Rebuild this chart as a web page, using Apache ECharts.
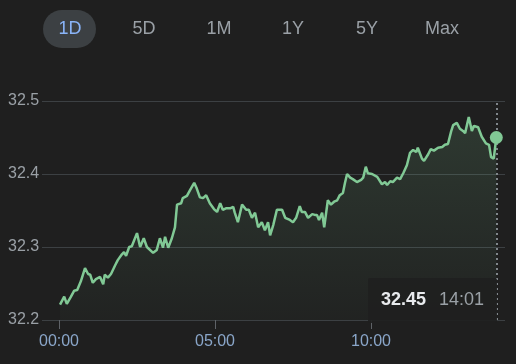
<!DOCTYPE html>
<html>
<head>
<meta charset="utf-8">
<script src="https://cdn.jsdelivr.net/npm/echarts@6/dist/echarts.min.js"></script>
<style>
html,body{margin:0;padding:0;background:#1f1f1f;}
#chart{width:516px;height:364px;}
</style>
</head>
<body>
<div id="chart"></div>
<script>
// Range buttons
const rangeButtons = ['1D', '5D', '1M', '1Y', '5Y', 'Max'];
const selectedRange = '1D';

// Time of each sample, minutes since 00:00
const minutes = [2,10,15,23,29,35,42,50,56,60,65,71,79,85,88,94,100,108,113,115,121,125,129,135,140,150,156,163,169,181,188,194,200,204,210,217,223,227,235,238,246,252,260,265,271,277,283,290,298,304,310,315,321,329,335,338,344,352,360,365,371,377,383,390,396,402,406,412,419,429,435,444,450,456,463,467,473,479,487,492,496,500,506,510,517,523,529,535,540,546,550,554,560,565,573,581,585,590,594,602,612,621,627,631,637,642,650,656,662,669,675,681,687,690,698,702,710,715,721,729,737,742,748,754,758,765,771,777,781,788,794,798,806,813,821,827,831,836,841];

// Price at each sample
const prices = [32.221,32.232,32.222,32.232,32.240,32.241,32.253,32.271,32.263,32.262,32.251,32.256,32.259,32.249,32.262,32.258,32.263,32.275,32.282,32.281,32.290,32.293,32.288,32.300,32.301,32.319,32.300,32.312,32.300,32.292,32.296,32.312,32.299,32.314,32.299,32.312,32.327,32.358,32.360,32.367,32.370,32.378,32.388,32.380,32.368,32.367,32.371,32.360,32.352,32.348,32.360,32.351,32.353,32.353,32.355,32.347,32.334,32.358,32.351,32.351,32.340,32.347,32.327,32.334,32.323,32.334,32.316,32.330,32.351,32.351,32.340,32.337,32.334,32.340,32.356,32.348,32.348,32.340,32.345,32.344,32.344,32.337,32.347,32.327,32.364,32.358,32.362,32.364,32.371,32.374,32.388,32.400,32.395,32.393,32.389,32.392,32.395,32.410,32.401,32.400,32.396,32.386,32.389,32.385,32.390,32.389,32.395,32.393,32.401,32.412,32.429,32.433,32.430,32.436,32.421,32.418,32.427,32.434,32.432,32.436,32.437,32.440,32.441,32.458,32.467,32.470,32.462,32.459,32.456,32.478,32.459,32.466,32.464,32.451,32.442,32.440,32.423,32.421,32.45];

// Axis tick labels
const yTicks = [32.2, 32.3, 32.4, 32.5];
const xTickMinutes = [0, 300, 600];

function fmtTime(m) {
  const h = Math.floor(m / 60), mm = Math.round(m % 60);
  return String(h).padStart(2, '0') + ':' + String(mm).padStart(2, '0');
}

const lastIdx = prices.length - 1;
const lastMin = minutes[lastIdx];
const lastPrice = prices[lastIdx];
const seriesData = minutes.map((m, i) => [m, prices[i]]);

const FONT = '"Liberation Sans", Arial, sans-serif';
const btnX = [70, 144, 219, 293, 367, 442];

const graphics = [];
graphics.push({ type: 'rect', left: 43, top: 10, shape: { width: 53, height: 38, r: 19 }, style: { fill: '#3c4043' }, z: 100 });
rangeButtons.forEach((b, i) => {
  graphics.push({
    type: 'text', x: btnX[i], y: 29, z: 101,
    style: { text: b, fill: b === selectedRange ? '#8ab4f8' : '#9aa0a6', font: '18px ' + FONT, textAlign: 'center', textVerticalAlign: 'middle' }
  });
});
// readout box
graphics.push({ type: 'rect', left: 368, top: 278, shape: { width: 129, height: 45, r: 2 }, style: { fill: 'rgba(31,31,31,0.92)' }, z: 100 });
graphics.push({ type: 'text', x: 381, y: 300, z: 101, style: { text: lastPrice.toFixed(2), fill: '#e8eaed', font: 'bold 18px ' + FONT, textVerticalAlign: 'middle' } });
graphics.push({ type: 'text', x: 439, y: 300, z: 101, style: { text: fmtTime(lastMin), fill: '#9aa0a6', font: '18px ' + FONT, textVerticalAlign: 'middle' } });

const chart = echarts.init(document.getElementById('chart'), null, { renderer: 'canvas' });
chart.setOption({
  backgroundColor: '#1f1f1f',
  animation: false,
  grid: { left: 42, right: 11, top: 101, bottom: 44 },
  xAxis: {
    type: 'value',
    min: -32.7,
    max: 857.7,
    axisLine: { show: false },
    splitLine: { show: false },
    axisTick: { show: true, customValues: xTickMinutes, length: 9, lineStyle: { color: '#5f6368', width: 1 } },
    axisLabel: { customValues: xTickMinutes, formatter: v => fmtTime(v), color: '#8aa6c9', fontSize: 16, fontFamily: FONT, margin: 14 }
  },
  yAxis: {
    type: 'value',
    min: yTicks[0],
    max: yTicks[yTicks.length - 1],
    interval: 0.1,
    axisLine: { show: false },
    axisTick: { show: false },
    splitLine: { lineStyle: { color: '#3c4043', width: 1 } },
    axisLabel: { formatter: v => v.toFixed(1), color: '#9aa0a6', fontSize: 16, fontFamily: FONT, align: 'left', margin: 34 }
  },
  series: [{
    type: 'line',
    data: seriesData,
    showSymbol: false,
    lineStyle: { color: '#81c995', width: 2.5 },
    itemStyle: { color: '#81c995' },
    areaStyle: {
      color: new echarts.graphic.LinearGradient(0, 0, 0, 1, [
        { offset: 0, color: 'rgba(129,201,149,0.22)' },
        { offset: 1, color: 'rgba(129,201,149,0.03)' }
      ])
    },
    markLine: {
      silent: true, symbol: 'none', label: { show: false },
      lineStyle: { color: '#80868b', type: [2, 3], width: 2 },
      data: [{ xAxis: lastMin }]
    },
    z: 5
  }, {
    type: 'scatter',
    data: [[lastMin, lastPrice]],
    symbolSize: 13,
    itemStyle: { color: '#81c995', opacity: 1 },
    z: 6
  }],
  graphic: graphics
});
</script>
</body>
</html>
